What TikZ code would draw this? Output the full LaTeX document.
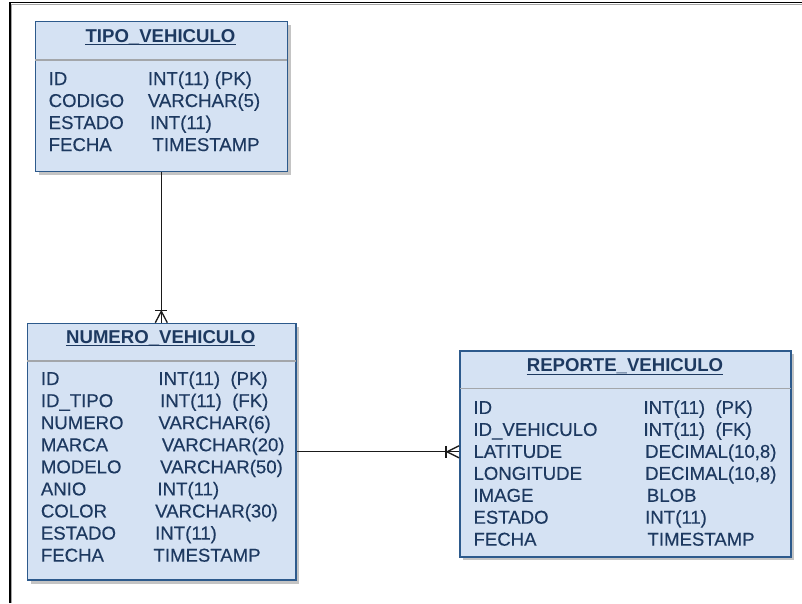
\documentclass[tikz,border=0pt]{standalone}
\usepackage{fontspec}
\setmainfont{Liberation Sans}
\newfontfamily\fieldfont[FakeBold=0.35]{Liberation Sans}
\usetikzlibrary{calc,shadows}
\definecolor{boxfill}{HTML}{D5E2F3}
\definecolor{boxline}{HTML}{2D5A8C}
\definecolor{txt}{HTML}{1D3960}
\definecolor{sepgray}{HTML}{A3A6AA}
\definecolor{shade}{HTML}{C4C4C4}
\definecolor{conncol}{HTML}{1A1A1A}

\begin{document}
\begin{tikzpicture}[x=1pt,y=-1pt,
  tbl/.style={draw=boxline, line width=1.6pt, fill=boxfill, inner sep=0pt,
    anchor=north west,
    drop shadow={shadow xshift=3.5pt, shadow yshift=-3.5pt, fill=shade, opacity=1}},
  fld/.style={anchor=base west, inner sep=0pt, text=txt,
    font=\fieldfont\fontsize{18.6}{22}\selectfont},
  ttl/.style={anchor=base, inner sep=0pt, text=txt,
    font=\fontsize{18.6}{22}\selectfont\bfseries},
  uline/.style={draw=txt, line width=1pt},
  sepline/.style={draw=sepgray, line width=1.6pt, shorten <=0.8pt, shorten >=0.8pt},
  conn/.style={draw=conncol, line width=1.3pt}]

\useasboundingbox (0,0) rectangle (802,603);
\fill[white] (0,0) rectangle (802,603);

% page frame (top and left edges)
\draw[gray!70, line width=1pt] (11.5,603) -- (11.5,4.2) -- (802,4.2);
\draw[black, line width=1.3pt] (10,603) -- (10,2.6) -- (802,2.6);

% ---------- TIPO_VEHICULO ----------
\node[tbl, minimum width=252pt, minimum height=150pt] (tipo) at (34.5,20.7) {};
\draw[sepline] ([yshift=-39.5pt]tipo.north west) -- ([yshift=-39.5pt]tipo.north east);
\node[ttl] (tipo-h) at (160.5,42) {TIPO\_VEHICULO};
\draw[uline] ([yshift=-2.3pt]tipo-h.base west) -- ([yshift=-2.3pt]tipo-h.base east);
\foreach \nm/\ty/\tx [count=\i] in
  {ID/{INT(11) (PK)}/147.7,
   CODIGO/{VARCHAR(5)}/147.7,
   ESTADO/{INT(11)}/150,
   FECHA/{TIMESTAMP}/152.3}{
  \node[fld] (tipo-n\i) at (48.5,63+22*\i) {\nm};
  \node[fld] (tipo-t\i) at (\tx,63+22*\i) {\ty};
}

% ---------- NUMERO_VEHICULO ----------
\node[tbl, minimum width=268.5pt, minimum height=256.6pt] (numero) at (26.5,322.7) {};
\draw[sepline] ([yshift=-38pt]numero.north west) -- ([yshift=-38pt]numero.north east);
\node[ttl] (numero-h) at (160.7,343.3) {NUMERO\_VEHICULO};
\draw[uline] ([yshift=-2.3pt]numero-h.base west) -- ([yshift=-2.3pt]numero-h.base east);
\foreach \nm/\ty/\tx [count=\i] in
  {ID/{INT(11)\ \ (PK)}/158.3,
   ID\_TIPO/{INT(11)\ \ (FK)}/160,
   NUMERO/{VARCHAR(6)}/158.3,
   MARCA/{VARCHAR(20)}/161.7,
   MODELO/{VARCHAR(50)}/160,
   ANIO/{INT(11)}/157.3,
   COLOR/{VARCHAR(30)}/155,
   ESTADO/{INT(11)}/155,
   FECHA/{TIMESTAMP}/153.3}{
  \node[fld] (numero-n\i) at (40.7,362.9+22.08*\i) {\nm};
  \node[fld] (numero-t\i) at (\tx,362.9+22.08*\i) {\ty};
}

% ---------- REPORTE_VEHICULO ----------
\node[tbl, minimum width=331pt, minimum height=206pt] (reporte) at (459,350) {};
\draw[sepline] ([yshift=-38.3pt]reporte.north west) -- ([yshift=-38.3pt]reporte.north east);
\node[ttl] (reporte-h) at (625,371.7) {REPORTE\_VEHICULO};
\draw[uline] ([yshift=-2.3pt]reporte-h.base west) -- ([yshift=-2.3pt]reporte-h.base east);
\foreach \nm/\ty/\tx [count=\i] in
  {ID/{INT(11)\ \ (PK)}/643.3,
   ID\_VEHICULO/{INT(11)\ \ (FK)}/643.3,
   LATITUDE/{DECIMAL(10,8)}/645,
   LONGITUDE/{DECIMAL(10,8)}/645,
   IMAGE/{BLOB}/646.7,
   ESTADO/{INT(11)}/645,
   FECHA/{TIMESTAMP}/647.3}{
  \node[fld] (reporte-n\i) at (473.3,392+21.95*\i) {\nm};
  \node[fld] (reporte-t\i) at (\tx,392+21.95*\i) {\ty};
}

% ---------- relationships (one to many) ----------
\coordinate (cf1) at (tipo.south |- numero.north);
\draw[conn] (tipo.south) -- (cf1);
\draw[conn] ([xshift=-6pt,yshift=12.5pt]cf1) -- ([xshift=6pt,yshift=12.5pt]cf1);
\draw[conn] ([xshift=-6pt]cf1) -- ([yshift=11.5pt]cf1) -- ([xshift=6pt]cf1);

\coordinate (cf2) at (numero.east -| reporte.west);
\draw[conn] (numero.east) -- (cf2);
\draw[conn] ([xshift=-13pt,yshift=6pt]cf2) -- ([xshift=-13pt,yshift=-6pt]cf2);
\draw[conn] ([yshift=6pt]cf2) -- ([xshift=-12pt]cf2) -- ([yshift=-6pt]cf2);
\end{tikzpicture}
\end{document}
